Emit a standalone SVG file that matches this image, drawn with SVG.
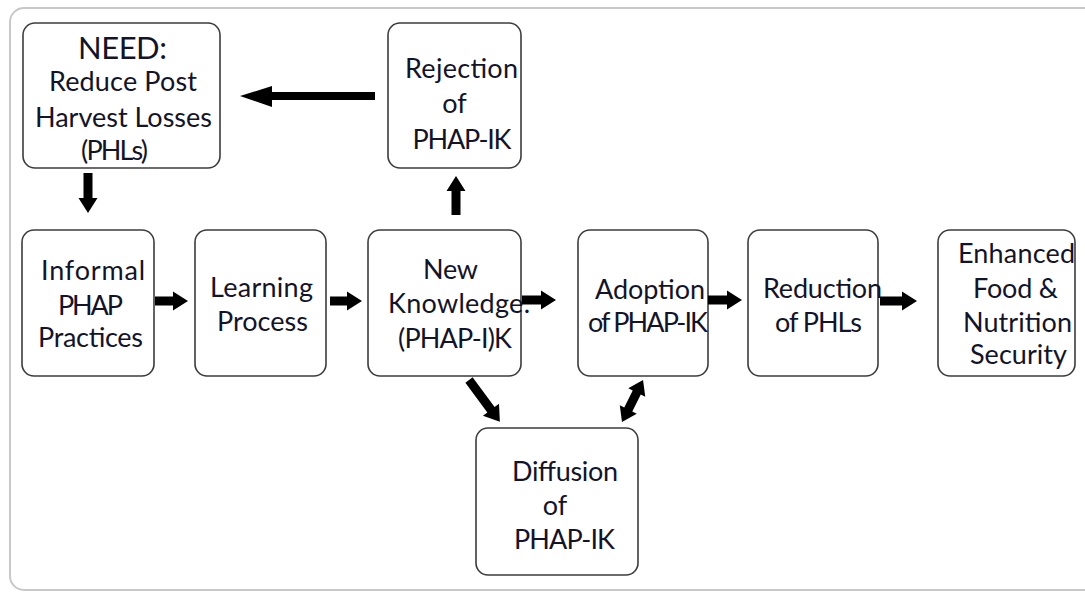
<svg xmlns="http://www.w3.org/2000/svg" width="1085" height="592" viewBox="0 0 1085 592">
<style>
.frame{fill:#fff;stroke:#c8c8c8;stroke-width:2}
.box{fill:#fff;stroke:#3c3c3c;stroke-width:1.6}
.t{font-family:Lato,"Liberation Sans",sans-serif;font-size:27px;fill:#141428;text-anchor:middle}
.big{font-size:31px}
.arr{fill:#000}
</style>
<rect width="1085" height="592" fill="#fff"/>
<rect class="frame" x="10" y="8" width="1095" height="582" rx="14"/>
<g id="need"><rect class="box" x="23" y="23" width="197" height="145" rx="12"/>
<text class="t big" x="122.5" y="59" textLength="89">NEED:</text>
<text class="t" x="123" y="91" textLength="148">Reduce Post</text>
<text class="t" x="123.5" y="127" textLength="177">Harvest Losses</text>
<text class="t" x="114.5" y="160" textLength="67">(PHLs)</text></g>
<g id="rejection"><rect class="box" x="388" y="23" width="133" height="145" rx="12"/>
<text class="t" x="461.5" y="78" textLength="113">Rejection</text>
<text class="t" x="454.5" y="113">of</text>
<text class="t" x="462" y="149" textLength="99">PHAP-IK</text></g>
<g id="informal"><rect class="box" x="22" y="230" width="132" height="146" rx="12"/>
<text class="t" x="93" y="280" textLength="104">Informal</text>
<text class="t" x="90.5" y="315" textLength="65">PHAP</text>
<text class="t" x="90.5" y="347" textLength="105">Practices</text></g>
<g id="learning"><rect class="box" x="195" y="230" width="131" height="146" rx="12"/>
<text class="t" x="261.5" y="297" textLength="103">Learning</text>
<text class="t" x="262.5" y="331" textLength="91">Process</text></g>
<g id="newk"><rect class="box" x="368" y="230" width="153" height="146" rx="12"/>
<text class="t" x="450.5" y="279" textLength="55">New</text>
<text class="t" x="459" y="313" textLength="142">Knowledge.</text>
<text class="t" x="455" y="348" textLength="114">(PHAP-I)K</text></g>
<g id="adoption"><rect class="box" x="578" y="230" width="130" height="146" rx="12"/>
<text class="t" x="650" y="299" textLength="110">Adoption</text>
<text class="t" x="648" y="332" textLength="120">of PHAP-IK</text></g>
<g id="reduction"><rect class="box" x="748" y="230" width="130" height="146" rx="12"/>
<text class="t" x="822.5" y="298" textLength="119">Reduction</text>
<text class="t" x="818.5" y="332" textLength="87">of PHLs</text></g>
<g id="enhanced"><rect class="box" x="938" y="230" width="137" height="146" rx="12"/>
<text class="t" x="1016.5" y="263" textLength="117">Enhanced</text>
<text class="t" x="1015.5" y="298" textLength="85">Food &amp;</text>
<text class="t" x="1017.5" y="332" textLength="109">Nutrition</text>
<text class="t" x="1018.5" y="364" textLength="97">Security</text></g>
<g id="diffusion"><rect class="box" x="476" y="428" width="162" height="147" rx="12"/>
<text class="t" x="565" y="481" textLength="106">Diffusion</text>
<text class="t" x="555" y="515">of</text>
<text class="t" x="564.5" y="549" textLength="101">PHAP-IK</text></g>
<g id="connectors">
<polygon class="arr" points="375,92 272,92 272,86 240,96 272,107 272,100 375,100"/>
<polygon class="arr" transform="translate(88,173) rotate(90)" points="0,-4.5 25,-4.5 25,-9.5 40,0 25,9.5 25,4.5 0,4.5"/>
<polygon class="arr" transform="translate(155,301)" points="0,-4.5 18,-4.5 18,-9.5 33,0 18,9.5 18,4.5 0,4.5"/>
<polygon class="arr" transform="translate(330,301)" points="0,-4.5 17,-4.5 17,-9.5 32,0 17,9.5 17,4.5 0,4.5"/>
<polygon class="arr" transform="translate(522,300)" points="0,-4.5 19,-4.5 19,-9.5 34,0 19,9.5 19,4.5 0,4.5"/>
<polygon class="arr" transform="translate(708,300)" points="0,-4.5 19,-4.5 19,-9.5 34,0 19,9.5 19,4.5 0,4.5"/>
<polygon class="arr" transform="translate(880,301)" points="0,-4.5 22,-4.5 22,-9.5 37,0 22,9.5 22,4.5 0,4.5"/>
<polygon class="arr" transform="translate(456,215) rotate(-90)" points="0,-4.5 24,-4.5 24,-9.5 39,0 24,9.5 24,4.5 0,4.5"/>
<polygon class="arr" transform="translate(469,380) rotate(53.6)" points="0,-4.5 37,-4.5 37,-10 52,0 37,10 37,4.5 0,4.5"/>
<polygon class="arr" transform="translate(622,422) rotate(-63.4)" points="0,0 14,-9.5 14,-4.5 33,-4.5 33,-9.5 47,0 33,9.5 33,4.5 14,4.5 14,9.5"/>
</g>
</svg>
